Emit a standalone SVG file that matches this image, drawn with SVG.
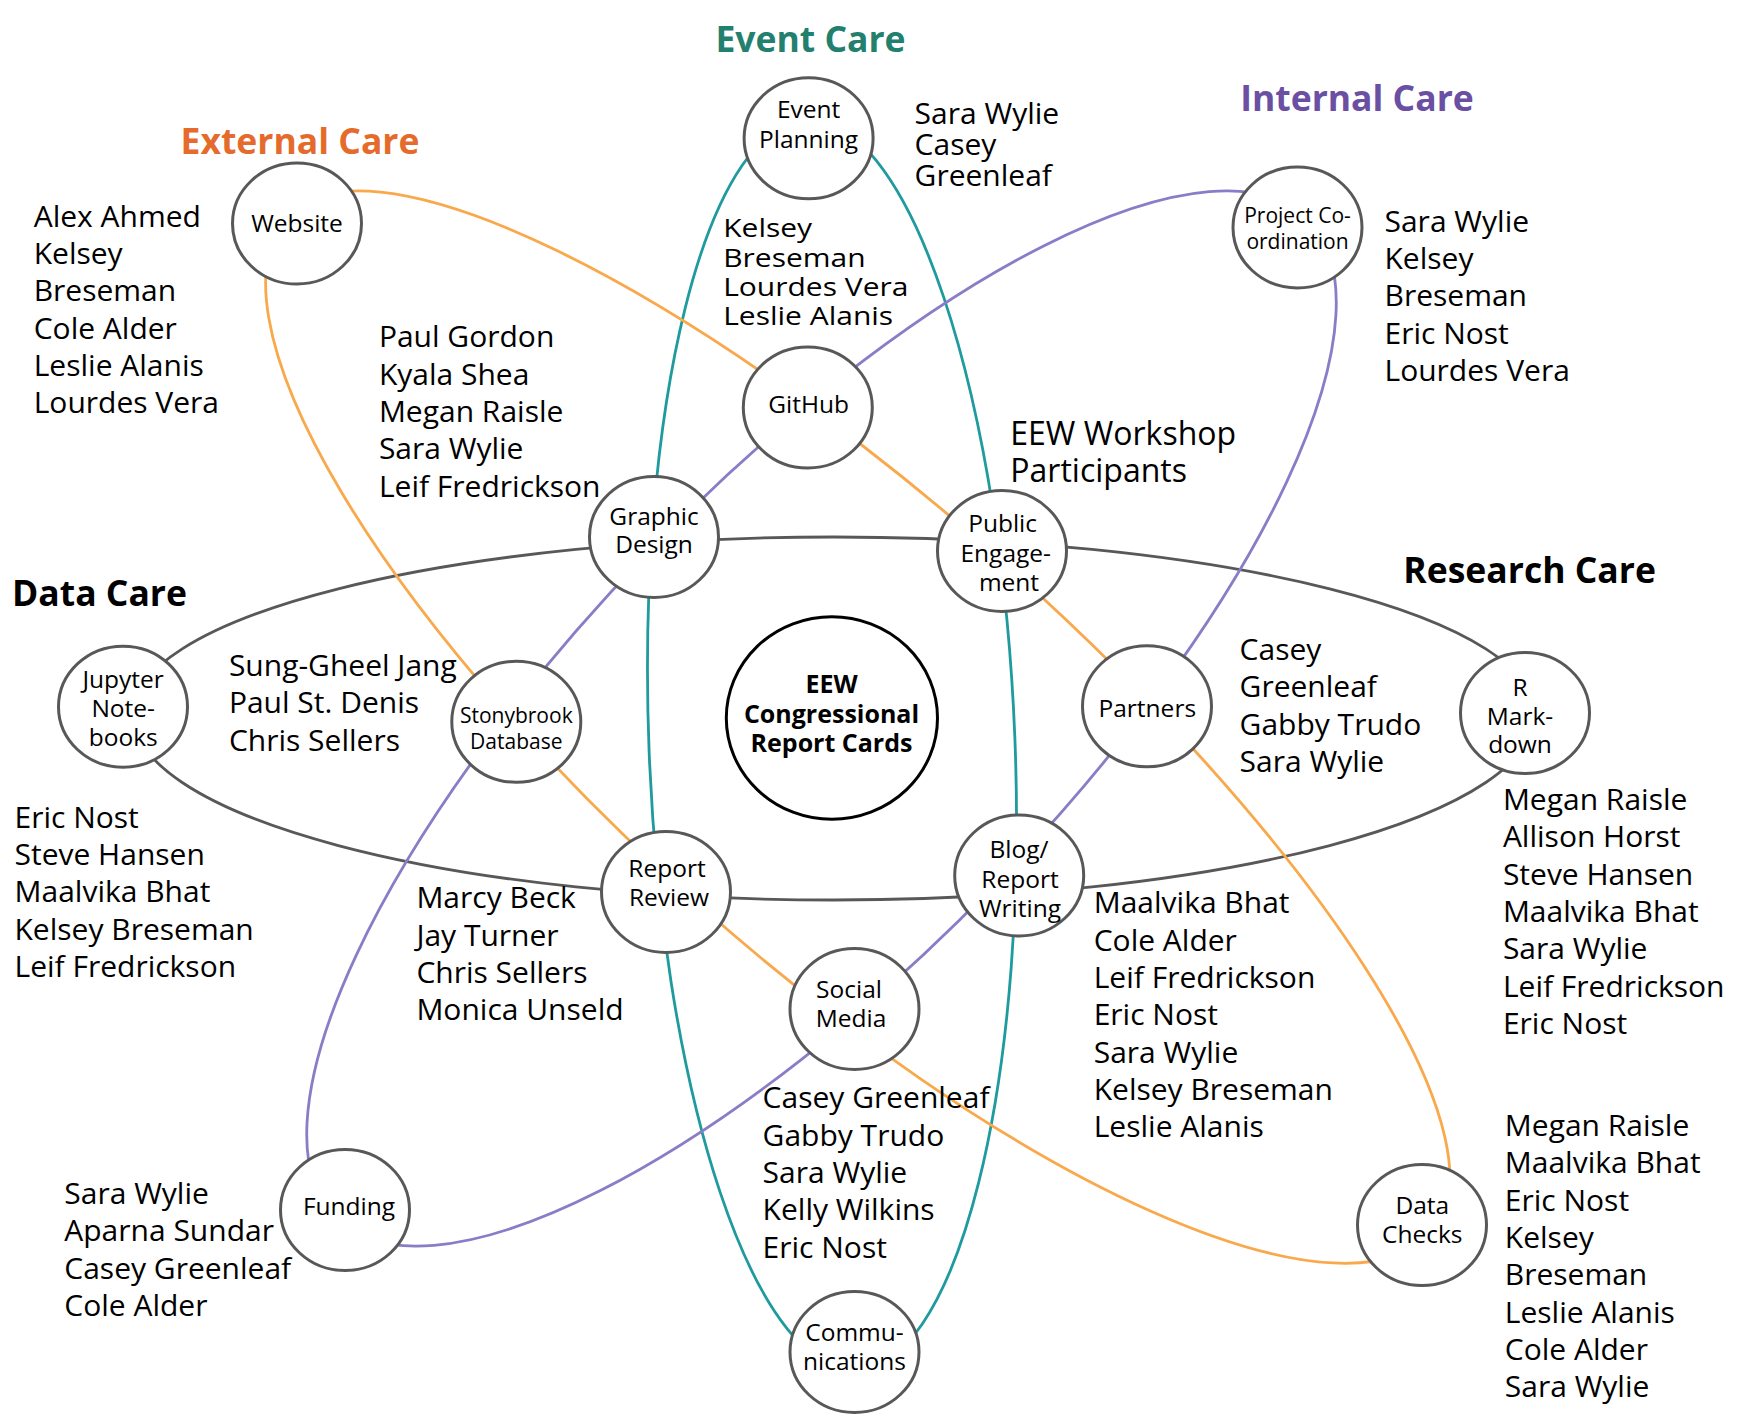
<svg xmlns="http://www.w3.org/2000/svg" width="1743" height="1427" viewBox="0 0 1743 1427">
<style>
.bg{fill:#fff}
.conn{fill:none;stroke-width:2.8}
.gray{stroke:#585858}
.teal{stroke:#1f9a9e}
.orange{stroke:#f9a84b}
.purple{stroke:#8a7cc6}
.node ellipse{fill:#fff;stroke:#585858;stroke-width:3}
.center ellipse{fill:#fff;stroke:#000;stroke-width:3}
text{font-family:"Open Sans","Noto Sans","DejaVu Sans",sans-serif;fill:#000}
.lbl{font-size:24.5px;text-anchor:middle}
.sm{font-size:21px}
.ctr{font-size:25px;font-weight:bold;text-anchor:middle}
.mem{font-size:30px}
.big{font-size:32px}
.title{font-size:35.5px;font-weight:bold}
</style>
<rect class="bg" x="0" y="0" width="1743" height="1427"/>

<g id="connectors">
  <path class="conn gray" d="M 133,714 A 701,177 0 0 1 1535,714 A 701,186 0 0 1 133,714 Z"/>
  <ellipse class="conn teal" cx="832" cy="745" rx="183" ry="626" transform="rotate(-2.26 832 745)"/>
  <path class="conn orange" d="M 287.8,216 A 765,216 41.6 0 1 1432.2,1232 A 765,242 41.6 0 1 287.8,216 Z"/>
  <ellipse class="conn purple" cx="821.5" cy="718.5" rx="697" ry="240" transform="rotate(-45.9 821.5 718.5)"/>
</g>

<g id="titles">
  <text class="title" x="300" y="154" text-anchor="middle" style="fill:#e56b2c">External Care</text>
  <text class="title" x="810.5" y="52" text-anchor="middle" style="fill:#237f6e">Event Care</text>
  <text class="title" x="1357" y="110.7" text-anchor="middle" style="fill:#6a4fa2">Internal Care</text>
  <text class="title" x="12" y="606">Data Care</text>
  <text class="title" x="1529.6" y="583.3" text-anchor="middle">Research Care</text>
</g>

<g id="node-website" class="node">
  <ellipse cx="297" cy="223.5" rx="64.5" ry="60.5"/>
  <text class="lbl" x="297" y="231.7">Website</text>
</g>
<g id="node-event-planning" class="node">
  <ellipse cx="808.6" cy="138.3" rx="64.5" ry="60.5"/>
  <text class="lbl" x="808.6" y="118.3">Event</text>
  <text class="lbl" x="808.6" y="148.3">Planning</text>
</g>
<g id="node-github" class="node">
  <ellipse cx="807.8" cy="407.5" rx="64.5" ry="60.5"/>
  <text class="lbl" x="808.6" y="413.3">GitHub</text>
</g>
<g id="node-project-coordination" class="node">
  <ellipse cx="1297.5" cy="227.5" rx="64.5" ry="60.5"/>
  <text class="lbl sm" x="1297.5" y="222.7">Project Co-</text>
  <text class="lbl sm" x="1297.5" y="249.3">ordination</text>
</g>
<g id="node-graphic-design" class="node">
  <ellipse cx="654" cy="537" rx="64.5" ry="60.5"/>
  <text class="lbl" x="654" y="525">Graphic</text>
  <text class="lbl" x="654" y="553.3">Design</text>
</g>
<g id="node-public-engagement" class="node">
  <ellipse cx="1002" cy="551" rx="64.5" ry="60.5"/>
  <text class="lbl" x="1002.6" y="532.3">Public</text>
  <text class="lbl" x="1005.7" y="561.7">Engage-</text>
  <text class="lbl" x="1009" y="590.7">ment</text>
</g>
<g id="node-jupyter" class="node">
  <ellipse cx="123" cy="706.7" rx="64.5" ry="60.5"/>
  <text class="lbl" x="123.2" y="688.3">Jupyter</text>
  <text class="lbl" x="123.2" y="716.7">Note-</text>
  <text class="lbl" x="123.2" y="746">books</text>
</g>
<g id="node-stonybrook" class="node">
  <ellipse cx="516.3" cy="721.8" rx="64.5" ry="60.5"/>
  <text class="lbl sm" x="516.3" y="722.7">Stonybrook</text>
  <text class="lbl sm" x="516.3" y="749.3">Database</text>
</g>
<g id="node-eew" class="center">
  <ellipse cx="831.9" cy="718" rx="105.6" ry="101.3"/>
  <text class="ctr" x="831.5" y="692.7">EEW</text>
  <text class="ctr" x="831.5" y="722.7">Congressional</text>
  <text class="ctr" x="831.5" y="751.7">Report Cards</text>
</g>
<g id="node-partners" class="node">
  <ellipse cx="1147" cy="706.3" rx="64.5" ry="60.5"/>
  <text class="lbl" x="1147.3" y="717.3">Partners</text>
</g>
<g id="node-rmarkdown" class="node">
  <ellipse cx="1525" cy="713" rx="64.5" ry="60.5"/>
  <text class="lbl" x="1520" y="696">R</text>
  <text class="lbl" x="1520" y="725">Mark-</text>
  <text class="lbl" x="1520" y="753.3">down</text>
</g>
<g id="node-report-review" class="node">
  <ellipse cx="666" cy="892" rx="64.5" ry="60.5"/>
  <text class="lbl" x="667" y="876.7">Report</text>
  <text class="lbl" x="668.9" y="906">Review</text>
</g>
<g id="node-blog" class="node">
  <ellipse cx="1019.2" cy="875.5" rx="64.5" ry="60.5"/>
  <text class="lbl" x="1019" y="858.3">Blog/</text>
  <text class="lbl" x="1020" y="888.3">Report</text>
  <text class="lbl" x="1020" y="916.7">Writing</text>
</g>
<g id="node-social-media" class="node">
  <ellipse cx="854.5" cy="1009" rx="64.5" ry="60.5"/>
  <text class="lbl" x="849" y="998">Social</text>
  <text class="lbl" x="851" y="1026.7">Media</text>
</g>
<g id="node-funding" class="node">
  <ellipse cx="345" cy="1210" rx="64.5" ry="60.5"/>
  <text class="lbl" x="349" y="1215">Funding</text>
</g>
<g id="node-data-checks" class="node">
  <ellipse cx="1422" cy="1225" rx="64.5" ry="60.5"/>
  <text class="lbl" x="1422.3" y="1214.3">Data</text>
  <text class="lbl" x="1422.3" y="1243.3">Checks</text>
</g>
<g id="node-communications" class="node">
  <ellipse cx="854.5" cy="1352" rx="64.5" ry="60.5"/>
  <text class="lbl" x="854.5" y="1340.7">Commu-</text>
  <text class="lbl" x="854.5" y="1370">nications</text>
</g>

<g id="members">
  <text class="mem" x="33.7" y="226.7">Alex Ahmed</text>
  <text class="mem" x="33.7" y="264">Kelsey</text>
  <text class="mem" x="33.7" y="301.3">Breseman</text>
  <text class="mem" x="33.7" y="338.6">Cole Alder</text>
  <text class="mem" x="33.7" y="375.9">Leslie Alanis</text>
  <text class="mem" x="33.7" y="413.2">Lourdes Vera</text>

  <text class="mem" x="378.9" y="347.3">Paul Gordon</text>
  <text class="mem" x="378.9" y="384.6">Kyala Shea</text>
  <text class="mem" x="378.9" y="421.9">Megan Raisle</text>
  <text class="mem" x="378.9" y="459.2">Sara Wylie</text>
  <text class="mem" x="378.9" y="496.5">Leif Fredrickson</text>

  <text class="mem" x="914.6" y="124">Sara Wylie</text>
  <text class="mem" x="914.6" y="155">Casey</text>
  <text class="mem" x="914.6" y="186">Greenleaf</text>

  <g transform="matrix(1,0,0,0.84,0,0)">
    <text class="mem" x="723.2" y="282.5">Kelsey</text>
    <text class="mem" x="723.2" y="317.4">Breseman</text>
    <text class="mem" x="723.2" y="352.3">Lourdes Vera</text>
    <text class="mem" x="723.2" y="387.2">Leslie Alanis</text>
  </g>

  <text class="mem big" x="1010.3" y="445">EEW Workshop</text>
  <text class="mem big" x="1010.3" y="481.5">Participants</text>

  <text class="mem" x="1384.5" y="231.7">Sara Wylie</text>
  <text class="mem" x="1384.5" y="269">Kelsey</text>
  <text class="mem" x="1384.5" y="306.3">Breseman</text>
  <text class="mem" x="1384.5" y="343.6">Eric Nost</text>
  <text class="mem" x="1384.5" y="380.9">Lourdes Vera</text>

  <text class="mem" x="228.9" y="676">Sung-Gheel Jang</text>
  <text class="mem" x="228.9" y="713.3">Paul St. Denis</text>
  <text class="mem" x="228.9" y="750.6">Chris Sellers</text>

  <text class="mem" x="14.5" y="827.7">Eric Nost</text>
  <text class="mem" x="14.5" y="865">Steve Hansen</text>
  <text class="mem" x="14.5" y="902.3">Maalvika Bhat</text>
  <text class="mem" x="14.5" y="939.6">Kelsey Breseman</text>
  <text class="mem" x="14.5" y="976.9">Leif Fredrickson</text>

  <text class="mem" x="416.4" y="908.3">Marcy Beck</text>
  <text class="mem" x="416.4" y="945.6">Jay Turner</text>
  <text class="mem" x="416.4" y="982.9">Chris Sellers</text>
  <text class="mem" x="416.4" y="1020.2">Monica Unseld</text>

  <text class="mem" x="1239.6" y="660">Casey</text>
  <text class="mem" x="1239.6" y="697.3">Greenleaf</text>
  <text class="mem" x="1239.6" y="734.6">Gabby Trudo</text>
  <text class="mem" x="1239.6" y="771.9">Sara Wylie</text>

  <text class="mem" x="1502.9" y="810">Megan Raisle</text>
  <text class="mem" x="1502.9" y="847.3">Allison Horst</text>
  <text class="mem" x="1502.9" y="884.6">Steve Hansen</text>
  <text class="mem" x="1502.9" y="921.9">Maalvika Bhat</text>
  <text class="mem" x="1502.9" y="959.2">Sara Wylie</text>
  <text class="mem" x="1502.9" y="996.5">Leif Fredrickson</text>
  <text class="mem" x="1502.9" y="1033.8">Eric Nost</text>

  <text class="mem" x="1093.7" y="913.3">Maalvika Bhat</text>
  <text class="mem" x="1093.7" y="950.6">Cole Alder</text>
  <text class="mem" x="1093.7" y="987.9">Leif Fredrickson</text>
  <text class="mem" x="1093.7" y="1025.2">Eric Nost</text>
  <text class="mem" x="1093.7" y="1062.5">Sara Wylie</text>
  <text class="mem" x="1093.7" y="1099.8">Kelsey Breseman</text>
  <text class="mem" x="1093.7" y="1137.1">Leslie Alanis</text>

  <text class="mem" x="762.6" y="1108.3">Casey Greenleaf</text>
  <text class="mem" x="762.6" y="1145.6">Gabby Trudo</text>
  <text class="mem" x="762.6" y="1182.9">Sara Wylie</text>
  <text class="mem" x="762.6" y="1220.2">Kelly Wilkins</text>
  <text class="mem" x="762.6" y="1257.5">Eric Nost</text>

  <text class="mem" x="64.3" y="1204">Sara Wylie</text>
  <text class="mem" x="64.3" y="1241.3">Aparna Sundar</text>
  <text class="mem" x="64.3" y="1278.6">Casey Greenleaf</text>
  <text class="mem" x="64.3" y="1315.9">Cole Alder</text>

  <text class="mem" x="1504.8" y="1136">Megan Raisle</text>
  <text class="mem" x="1504.8" y="1173.3">Maalvika Bhat</text>
  <text class="mem" x="1504.8" y="1210.6">Eric Nost</text>
  <text class="mem" x="1504.8" y="1247.9">Kelsey</text>
  <text class="mem" x="1504.8" y="1285.2">Breseman</text>
  <text class="mem" x="1504.8" y="1322.5">Leslie Alanis</text>
  <text class="mem" x="1504.8" y="1359.8">Cole Alder</text>
  <text class="mem" x="1504.8" y="1397.1">Sara Wylie</text>
</g>
</svg>
